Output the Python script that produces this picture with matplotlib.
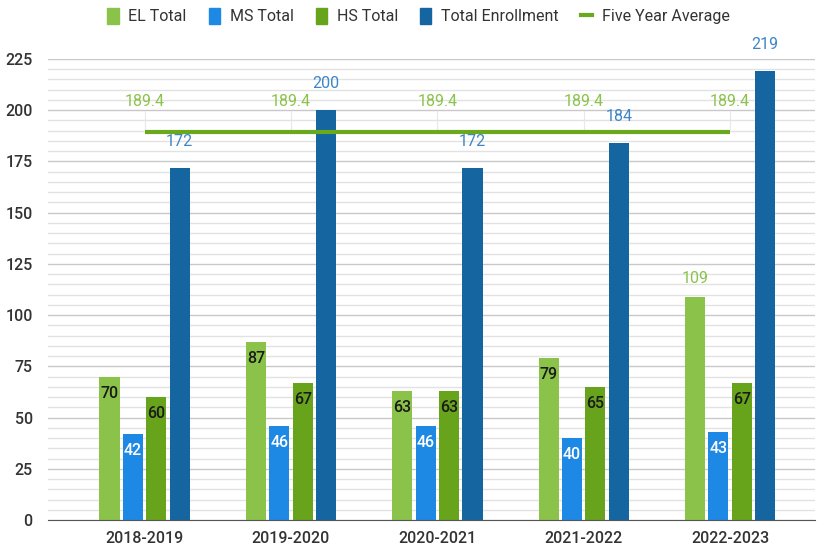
import numpy as np
import matplotlib.pyplot as plt
from matplotlib.patches import Patch
from matplotlib.lines import Line2D
from matplotlib.ticker import MultipleLocator

plt.rcParams['font.family'] = ['Roboto', 'DejaVu Sans']

years = ['2018-2019', '2019-2020', '2020-2021', '2021-2022', '2022-2023']
el_total = [70, 87, 63, 79, 109]
ms_total = [42, 46, 46, 40, 43]
hs_total = [60, 67, 63, 65, 67]
total_enrollment = [172, 200, 172, 184, 219]
five_year_avg = [189.4, 189.4, 189.4, 189.4, 189.4]

c_el = '#8bc34a'
c_ms = '#1e88e5'
c_hs = '#68a31c'
c_tot = '#1565a0'
c_avg = '#6aa91e'

fs = 11.5

fig = plt.figure(figsize=(8.37, 5.52), dpi=100)
ax = fig.add_axes([48 / 837, 32 / 552, 767 / 837, 461 / 552])

x = np.arange(len(years))
w = 0.137
offsets = [-0.24, -0.08, 0.08, 0.24]

ax.bar(x + offsets[0], el_total, w, color=c_el, zorder=3)
ax.bar(x + offsets[1], ms_total, w, color=c_ms, zorder=3)
ax.bar(x + offsets[2], hs_total, w, color=c_hs, zorder=3)
ax.bar(x + offsets[3], total_enrollment, w, color=c_tot, zorder=3)
ax.plot(x, five_year_avg, color=c_avg, lw=3, zorder=4, solid_capstyle='butt')

# data labels
for i in range(len(years)):
    if el_total[i] > 100:
        ax.annotate(str(el_total[i]), (x[i] + offsets[0], el_total[i]), xytext=(0, 13),
                    textcoords='offset points', ha='center', va='center', color=c_el, fontsize=fs)
    else:
        ax.annotate(str(el_total[i]), (x[i] + offsets[0], el_total[i]), xytext=(0, -12),
                    textcoords='offset points', ha='center', va='center', color='#1a1a1a', fontsize=fs,
                    fontweight='medium', zorder=5)
    ax.annotate(str(ms_total[i]), (x[i] + offsets[1], ms_total[i]), xytext=(0, -12),
                textcoords='offset points', ha='center', va='center', color='white', fontsize=fs,
                fontweight='medium', zorder=5)
    ax.annotate(str(hs_total[i]), (x[i] + offsets[2], hs_total[i]), xytext=(0, -12),
                textcoords='offset points', ha='center', va='center', color='#1a1a1a', fontsize=fs,
                fontweight='medium', zorder=5)
    ax.annotate(str(total_enrollment[i]), (x[i] + offsets[3], total_enrollment[i]), xytext=(0, 19),
                textcoords='offset points', ha='center', va='center', color='#3d85c6', fontsize=fs,
                annotation_clip=False)
    ax.annotate('%.1f' % five_year_avg[i], (x[i], five_year_avg[i]), xytext=(0, 22),
                textcoords='offset points', ha='center', va='center', color=c_el, fontsize=fs)
    ax.plot([x[i], x[i]], [five_year_avg[i] + 1.5, five_year_avg[i] + 10], color='#e8e8e8', lw=0.8, zorder=2)

ax.set_xlim(-0.66, 4.58)
ax.set_ylim(0, 225)
ax.set_xticks(x)
ax.set_xticklabels(years, fontsize=fs, color='#333333', fontweight='medium')
ax.yaxis.set_major_locator(MultipleLocator(25))
ax.yaxis.set_minor_locator(MultipleLocator(5))
ax.tick_params(axis='y', labelsize=fs, colors='#333333', length=0, which='both', pad=11)
for t in ax.get_yticklabels():
    t.set_fontweight('medium')
ax.tick_params(axis='x', length=0, pad=8)
ax.grid(axis='y', which='major', color='#c8c8c8', lw=1, zorder=0)
ax.grid(axis='y', which='minor', color='#e2e2e2', lw=1, zorder=0)
for s in ['top', 'right', 'left']:
    ax.spines[s].set_visible(False)
ax.spines['bottom'].set_color('#555555')
ax.spines['bottom'].set_zorder(5)

handles = [Patch(color=c_el), Patch(color=c_ms), Patch(color=c_hs), Patch(color=c_tot),
           Line2D([0], [0], color=c_avg, lw=3)]
labels = ['EL Total', 'MS Total', 'HS Total', 'Total Enrollment', 'Five Year Average']
fig.legend(handles, labels, loc='center', bbox_to_anchor=(0.5, 1 - 16 / 552), ncol=5, frameon=False,
           fontsize=fs, handlelength=0.7, handleheight=1.2, handletextpad=0.6, columnspacing=1.4,
           labelcolor='#333333')

fig.savefig('out.png', dpi=100)
